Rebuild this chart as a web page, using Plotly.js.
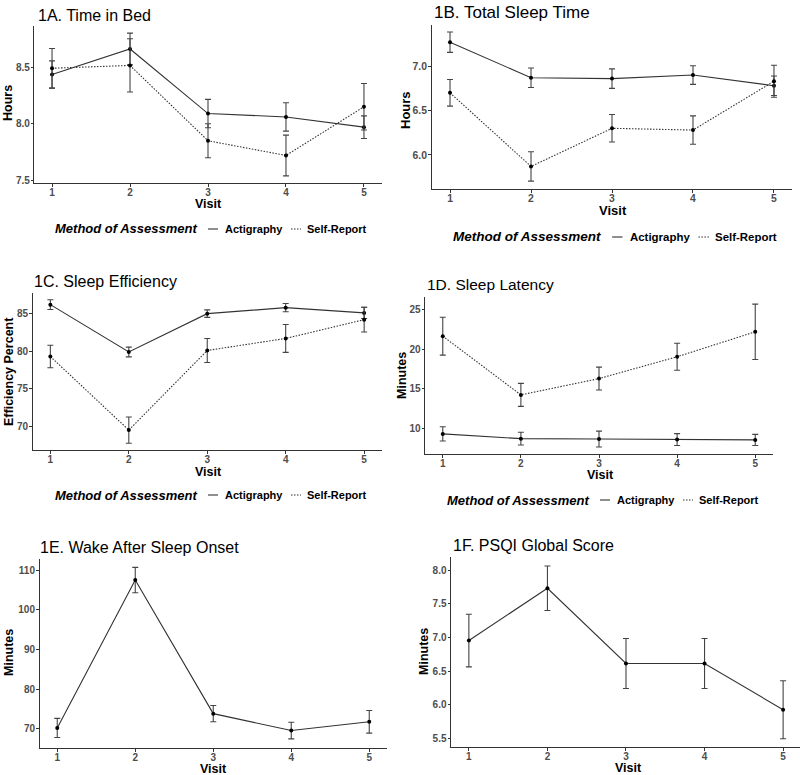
<!DOCTYPE html>
<html>
<head>
<meta charset="utf-8">
<script src="https://cdn.plot.ly/plotly-3.0.1.min.js"></script>
<style>html,body{margin:0;padding:0;background:#fff}#chart{width:800px;height:775px}</style>
</head>
<body>
<div id="chart"></div>
<script>
// ---- data ----
const visits = [1, 2, 3, 4, 5];
const visitTicks = ['1', '2', '3', '4', '5'];

const tibAct = [8.435, 8.66, 8.09, 8.06, 7.97];
const tibActErr = [0.12, 0.14, 0.125, 0.125, 0.10];
const tibSR = [8.49, 8.515, 7.85, 7.72, 8.15];
const tibSRErr = [0.175, 0.235, 0.15, 0.18, 0.205];

const tstAct = [7.27, 6.87, 6.86, 6.90, 6.78];
const tstActErr = [0.115, 0.11, 0.11, 0.105, 0.11];
const tstSR = [6.70, 5.87, 6.30, 6.28, 6.83];
const tstSRErr = [0.15, 0.165, 0.155, 0.16, 0.18];

const seAct = [86.2, 79.9, 85.0, 85.8, 85.1];
const seActErr = [0.65, 0.65, 0.5, 0.55, 0.75];
const seSR = [79.3, 69.5, 80.1, 81.7, 84.2];
const seSRErr = [1.5, 1.75, 1.6, 1.85, 1.65];

const slAct = [9.3, 8.7, 8.65, 8.58, 8.54];
const slActErr = [0.9, 0.8, 1.0, 0.75, 0.7];
const slSR = [21.65, 14.23, 16.29, 19.05, 22.2];
const slSRErr = [2.4, 1.45, 1.45, 1.7, 3.5];

const waso = [70.25, 107.5, 73.85, 69.6, 71.8];
const wasoErr = [2.4, 3.2, 2.05, 2.1, 2.85];

const psqi = [6.955, 7.73, 6.615, 6.615, 5.93];
const psqiErr = [0.39, 0.33, 0.37, 0.37, 0.43];

const seriesNames = ['Actigraphy', 'Self-Report'];
const legendTitle = 'Method of Assessment';
const panelTitles = ['1A. Time in Bed', '1B. Total Sleep Time', '1C. Sleep Efficiency',
  '1D. Sleep Latency', '1E. Wake After Sleep Onset', '1F. PSQI Global Score'];
const yTitles = ['Hours', 'Hours', 'Efficiency Percent', 'Minutes', 'Minutes', 'Minutes'];
const xTitle = 'Visit';

// ---- style ----
const FONT = 'Liberation Sans, Arial, Helvetica, sans-serif';
const LINE = '#333333';
const ERR = '#444444';
const DOT = '1.5px,1.5px';

function lineTrace(ax, y, dash) {
  return {
    x: visits, y: y, xaxis: 'x' + ax, yaxis: 'y' + ax,
    mode: 'lines', showlegend: false, hoverinfo: 'skip',
    line: {color: LINE, width: 1.1, dash: dash}
  };
}
function pointTrace(ax, y, err) {
  return {
    x: visits, y: y, xaxis: 'x' + ax, yaxis: 'y' + ax,
    mode: 'markers', showlegend: false,
    marker: {color: '#000', size: 4, symbol: 'circle'},
    error_y: {type: 'data', array: err, visible: true, color: ERR, thickness: 1.1, width: 3}
  };
}

const traces = [];
const two = [
  [1, tibAct, tibActErr, tibSR, tibSRErr],
  [2, tstAct, tstActErr, tstSR, tstSRErr],
  [3, seAct, seActErr, seSR, seSRErr],
  [4, slAct, slActErr, slSR, slSRErr]
];
two.forEach(p => {
  traces.push(lineTrace(p[0], p[1], 'solid'));
  traces.push(lineTrace(p[0], p[3], DOT));
  traces.push(pointTrace(p[0], p[1], p[2]));
  traces.push(pointTrace(p[0], p[3], p[4]));
});
traces.push(lineTrace(5, waso, 'solid'));
traces.push(pointTrace(5, waso, wasoErr));
traces.push(lineTrace(6, psqi, 'solid'));
traces.push(pointTrace(6, psqi, psqiErr));

const W = 800, H = 775;
function dx(a, b) { return [a / W, b / W]; }
function dy(top, bottom) { return [1 - bottom / H, 1 - top / H]; }

const panels = [
  {x: dx(34.3, 381.7), y: dy(26, 183), yr: [7.477, 8.863], tv: [7.5, 8.0, 8.5], fmt: '.1f', xr: [0.7725, 5.2275], s: 1},
  {x: dx(431.6, 792.4), y: dy(25, 189), yr: [5.616, 7.464], tv: [6.0, 6.5, 7.0], fmt: '.1f', xr: [0.7725, 5.2275], s: 1.04},
  {x: dx(32.5, 382), y: dy(293, 450), yr: [66.85, 87.75], tv: [70, 75, 80, 85], fmt: 'd', xr: [0.7725, 5.2275], s: 1},
  {x: dx(425, 773), y: dy(297, 454), yr: [6.76, 26.6], tv: [10, 15, 20, 25], fmt: 'd', xr: [0.7725, 5.2275], s: 1},
  {x: dx(39.5, 387), y: dy(559, 748), yr: [65.2, 112.8], tv: [70, 80, 90, 100, 110], fmt: 'd', xr: [0.7725, 5.2275], s: 1},
  {x: dx(451, 800), y: dy(557, 747), yr: [5.377, 8.193], tv: [5.5, 6.0, 6.5, 7.0, 7.5, 8.0], fmt: '.1f', xr: [0.7725, 5.215], s: 1}
];

const layout = {
  width: W, height: H,
  margin: {l: 0, r: 0, t: 0, b: 0},
  paper_bgcolor: '#fff', plot_bgcolor: '#fff',
  font: {family: FONT, size: 11, color: '#000'},
  annotations: [], shapes: [], showlegend: false
};

function tickFont(s) { return {family: FONT, size: 10 * s, color: '#4d4d4d', weight: 'bold'}; }
function axTitleFont(s) { return {family: FONT, size: 12.5 * s, color: '#000', weight: 'bold'}; }

function ann(text, px, py, opts) {
  return Object.assign({
    text: text, xref: 'paper', yref: 'paper', x: px / W, y: 1 - py / H,
    xanchor: 'center', yanchor: 'middle', showarrow: false
  }, opts || {});
}

// axis title positions (pixels): [xTitle x, xTitle y, yTitle x, yTitle y]
const axTitlePos = [
  [208, 204, 8, 103],
  [613, 210, 405, 110],
  [208, 471.5, 9, 372],
  [600, 474.5, 402, 375],
  [213, 768.5, 9, 653],
  [628, 767.5, 424, 652]
];

panels.forEach((p, i) => {
  const n = i + 1;
  const xa = n === 1 ? 'xaxis' : 'xaxis' + n;
  const ya = n === 1 ? 'yaxis' : 'yaxis' + n;
  layout[xa] = {
    domain: p.x, anchor: 'y' + n, range: p.xr,
    tickmode: 'array', tickvals: visits, ticktext: visitTicks,
    showgrid: false, zeroline: false, showline: true, linecolor: LINE, linewidth: 1,
    ticks: 'outside', ticklen: 2.5, tickcolor: LINE, tickwidth: 1,
    ticklabelstandoff: -3,
    tickfont: tickFont(p.s), fixedrange: true
  };
  layout[ya] = {
    domain: p.y, anchor: 'x' + n, range: p.yr,
    tickmode: 'array', tickvals: p.tv, tickformat: p.fmt,
    showgrid: false, zeroline: false, showline: true, linecolor: LINE, linewidth: 1,
    ticks: 'outside', ticklen: 2.5, tickcolor: LINE, tickwidth: 1,
    ticklabelstandoff: -1,
    tickfont: tickFont(p.s), fixedrange: true
  };
  const a = axTitlePos[i];
  layout.annotations.push(ann(xTitle, a[0], a[1], {font: axTitleFont(p.s)}));
  layout.annotations.push(ann(yTitles[i], a[2], a[3], {font: axTitleFont(p.s), textangle: -90}));
});

// panel titles
const titlePos = [[36, 15], [432, 13], [32, 281], [425, 285], [38, 547], [451, 545]];
const titleSize = [16, 17, 16, 15.5, 16, 16];
panelTitles.forEach((t, i) => {
  layout.annotations.push(ann(t, titlePos[i][0], titlePos[i][1],
    {xanchor: 'left', font: {family: FONT, size: titleSize[i], color: '#000'}}));
});

// legends (title + key samples + labels), pixel anchor = start of title, scale
const legPos = [[55, 229, 1], [453, 237, 1.04], [55, 495, 1], [447, 500, 1]];
legPos.forEach(l => {
  const x0 = l[0], yc = l[1], s = l[2];
  const lab = {family: FONT, size: 11 * s, color: '#000', weight: 'bold'};
  layout.annotations.push(ann(legendTitle, x0 - 2, yc,
    {xanchor: 'left', font: {family: FONT, size: 13 * s, color: '#000', weight: 'bold', style: 'italic'}}));
  layout.shapes.push({type: 'line', xref: 'paper', yref: 'paper',
    x0: (x0 + 153 * s) / W, x1: (x0 + 163 * s) / W, y0: 1 - yc / H, y1: 1 - yc / H,
    line: {color: LINE, width: 1.1}});
  layout.annotations.push(ann(seriesNames[0], x0 + 168 * s, yc, {xanchor: 'left', font: lab}));
  layout.shapes.push({type: 'line', xref: 'paper', yref: 'paper',
    x0: (x0 + 236 * s) / W, x1: (x0 + 246 * s) / W, y0: 1 - yc / H, y1: 1 - yc / H,
    line: {color: LINE, width: 1.1, dash: DOT}});
  layout.annotations.push(ann(seriesNames[1], x0 + 250 * s, yc, {xanchor: 'left', font: lab}));
});

Plotly.newPlot('chart', traces, layout, {displayModeBar: false, staticPlot: true});
</script>
</body>
</html>
